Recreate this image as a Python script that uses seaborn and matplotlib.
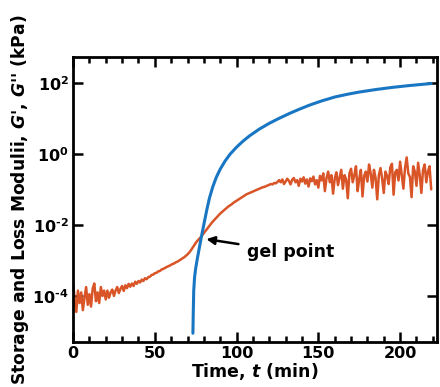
import numpy as np
import pandas as pd
import matplotlib
matplotlib.use('Agg')
import matplotlib.pyplot as plt
import seaborn as sns
from matplotlib.ticker import FixedLocator, MultipleLocator, FuncFormatter

# storage modulus G' (kPa) as log10 values
t_storage = [73.3, 73.5, 73.8, 74.3, 75.0, 76.0, 77.0, 78.5, 80.5, 82.0, 83.5, 85.5,
             87.6, 90.0, 93.0, 96.0, 100.0, 104.0, 108.0, 114.0, 120.0, 126.0,
             132.0, 138.0, 144.5, 152.0, 160.0, 168.0, 175.0, 185.0, 195.0,
             205.0, 212.0, 219.0]
logG_storage = [-5.05, -4.5, -3.85, -3.48, -3.22, -2.95, -2.7, -2.33, -1.87, -1.53, -1.23, -0.92,
                -0.66, -0.43, -0.2, -0.01, 0.19, 0.36, 0.51, 0.7, 0.86, 1.0,
                1.13, 1.25, 1.37, 1.49, 1.6, 1.68, 1.74, 1.81, 1.87,
                1.92, 1.95, 1.98]

# loss modulus G'' (kPa), one reading per minute from t = 0 to 219
logG_loss = [
    # 0-20
    -3.6, -4.1, -4.45, -3.85, -4.2, -3.9, -4.4, -4.05, -3.75, -4.25, -3.95,
    -4.3, -3.8, -3.65, -4.15, -3.9, -4.2, -3.75, -4.0, -3.85, -4.1,
    # 21-45
    -3.85, -4.05, -3.9, -3.82, -4.0, -3.85, -3.75, -3.92, -3.8, -3.72,
    -3.86, -3.7, -3.78, -3.66, -3.74, -3.65, -3.72, -3.6, -3.66, -3.58,
    -3.62, -3.54, -3.58, -3.5, -3.53,
    # 46-75
    -3.47, -3.46, -3.41, -3.4, -3.36, -3.35, -3.31, -3.3, -3.26, -3.24,
    -3.22, -3.19, -3.17, -3.15, -3.12, -3.1, -3.08, -3.05, -3.03, -3.0,
    -2.97, -2.94, -2.91, -2.87, -2.83, -2.78, -2.72, -2.65, -2.58, -2.51,
    # 76-125
    -2.45, -2.4, -2.35, -2.29, -2.23, -2.17, -2.11, -2.05, -1.99, -1.93,
    -1.88, -1.83, -1.78, -1.73, -1.68, -1.64, -1.6, -1.56, -1.52, -1.48,
    -1.45, -1.42, -1.38, -1.35, -1.32, -1.29, -1.26, -1.23, -1.2, -1.17,
    -1.14, -1.12, -1.1, -1.08, -1.06, -1.04, -1.02, -1.0, -0.98, -0.96,
    -0.94, -0.93, -0.91, -0.89, -0.87, -0.85, -0.86, -0.82, -0.83, -0.79,
    # 126-150
    -0.74, -0.8, -0.72, -0.85, -0.78, -0.7, -0.76, -0.86, -0.73, -0.68,
    -0.8, -0.74, -0.9, -0.7, -0.78, -0.66, -0.84, -0.72, -0.92, -0.69,
    -0.77, -0.64, -0.86, -0.74, -0.95,
    # 151-167
    -0.62, -0.75, -0.55, -1.05, -0.68, -0.5, -0.8, -0.6, -1.12, -0.7,
    -0.52, -0.88, -0.66, -0.45, -0.98, -0.6, -0.72,
    # 168-219
    -1.25, -0.55, -0.42, -0.8, -0.6, -0.35, -1.05, -0.7, -0.45, -1.2,
    -0.62, -0.5, -0.78, -0.3, -0.55, -0.95, -0.45, -0.68, -1.28, -0.6,
    -0.4, -0.7, -1.1, -0.5, -0.62, -0.85, -0.38, -0.28, -1.15, -0.52,
    -0.45, -0.75, -0.22, -0.6, -0.98, -0.4, -0.1, -0.55, -0.65, -1.22,
    -0.35, -0.5, -0.9, -0.25, -0.6, -1.1, -0.45, -0.3, -0.8, -0.5,
    -0.35, -1.0]
t_loss = list(range(len(logG_loss)))

y_ticks = [1e-4, 1e-2, 1e0, 1e2]

storage = pd.DataFrame({'t': t_storage, 'G': 10 ** np.array(logG_storage)})
loss = pd.DataFrame({'t': t_loss, 'G': 10 ** np.array(logG_loss)})

sns.set_style("ticks", rc={'text.color': 'black', 'axes.labelcolor': 'black',
                           'xtick.color': 'black', 'ytick.color': 'black'})
plt.rcParams['font.family'] = ['DejaVu Sans']
plt.rcParams['font.weight'] = 'bold'
plt.rcParams['axes.labelweight'] = 'bold'
plt.rcParams['axes.unicode_minus'] = False
plt.rcParams['mathtext.fontset'] = 'custom'
plt.rcParams['mathtext.rm'] = 'DejaVu Sans:bold'
plt.rcParams['mathtext.it'] = 'DejaVu Sans:italic:bold'
plt.rcParams['mathtext.default'] = 'rm'


def decade(v, pos):
    e = int(round(np.log10(v)))
    sign = '\u2010' if e < 0 else ''
    return r'10$^{%s%d}$' % (sign, abs(e))


fig = plt.figure(figsize=(4.4, 3.87), dpi=100)
ax = fig.add_axes([0.166, 0.116, 0.827, 0.737])

sns.lineplot(data=loss, x='t', y='G', ax=ax, color='#D95527', lw=1.8)
sns.lineplot(data=storage, x='t', y='G', ax=ax, color='#1976C2', lw=2.2)

ax.set_yscale('log')
ax.set_xlim(0, 222.5)
ax.set_ylim(10 ** -5.3, 10 ** 2.73)
ax.yaxis.set_major_locator(FixedLocator(y_ticks))
ax.yaxis.set_minor_locator(FixedLocator([]))
ax.yaxis.set_major_formatter(FuncFormatter(decade))
ax.xaxis.set_major_locator(MultipleLocator(50))
ax.xaxis.set_minor_locator(MultipleLocator(10))

ax.tick_params(which='both', direction='in', top=True, right=True, width=1.8,
               labelsize=11.5, pad=3, color='black', labelcolor='black')
ax.tick_params(which='major', length=7)
ax.tick_params(which='minor', length=4)
for s in ax.spines.values():
    s.set_linewidth(2)
    s.set_color('black')

ax.set_xlabel('Time, $\\mathit{t}$ (min)', fontsize=12.5, labelpad=0)
ax.set_ylabel("Storage and Loss Modulii, $\\mathit{G}$', $\\mathit{G}$'' (kPa)",
              fontsize=12.3, labelpad=1)

ax.annotate('gel point', xy=(81.5, 10 ** -2.4), xytext=(106.5, 10 ** -2.77),
            fontsize=12.5, ha='left', va='center',
            arrowprops=dict(arrowstyle='-|>', color='black', lw=1.8,
                            mutation_scale=12, shrinkA=4, shrinkB=0))

plt.savefig('out.png', dpi=100)
plt.close()
